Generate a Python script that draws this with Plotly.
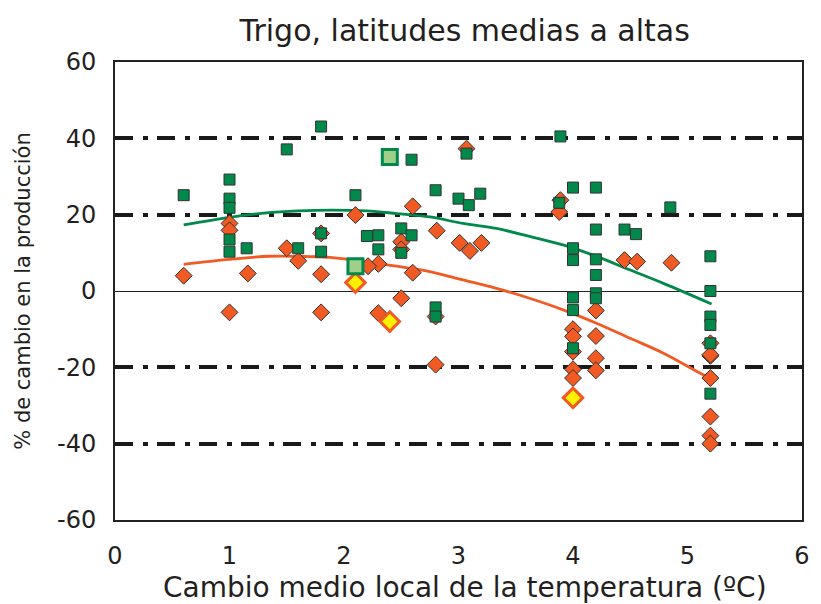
import plotly.graph_objects as go

# Green squares
sq_x = [0.60, 1.00, 1.00, 1.00, 1.00, 1.00, 1.15, 1.50, 1.80, 1.60, 1.80, 1.80,
        2.10, 2.59, 3.07, 2.80, 3.00, 3.09, 3.19, 2.20, 2.30, 2.30, 2.50, 2.59, 2.50,
        2.80, 2.80,
        3.89, 4.00, 4.20, 3.88, 4.85, 4.20, 4.45, 4.55, 4.00, 4.00, 4.20, 4.20, 4.20,
        4.20, 4.00, 4.00, 4.00,
        5.20, 5.20, 5.20, 5.20, 5.20, 5.20]
sq_y = [25.1, 29.2, 24.2, 21.8, 13.5, 10.3, 11.2, 37.1, 43.1, 11.2, 15.1, 10.3,
        25.1, 34.4, 36.0, 26.4, 24.2, 22.5, 25.5, 14.4, 14.6, 10.9, 16.4, 14.6, 10.0,
        -4.3, -6.7,
        40.5, 27.1, 27.1, 23.1, 21.9, 16.1, 16.1, 14.9, 11.2, 8.1, 8.3, 4.2, -0.6,
        -1.9, -1.7, -5.0, -15.0,
        9.1, 0.0, -6.7, -8.9, -13.7, -26.9]

# Orange diamonds
dm_x = [0.60, 1.00, 1.00, 1.00, 1.16, 1.50, 1.60, 1.80, 1.80, 1.80,
        2.10, 2.60, 2.81, 3.01, 3.10, 3.20, 2.50, 2.50, 2.30, 2.21, 2.60, 2.50,
        2.30, 2.80, 2.80, 3.07,
        3.89, 3.88, 4.45, 4.56, 4.86, 4.20, 4.00, 4.00, 4.20, 4.00, 4.20, 4.20,
        4.00, 4.00,
        5.20, 5.20, 5.20, 5.20, 5.20, 5.20, 5.20]
dm_y = [4.0, 17.7, 15.9, -5.6, 4.6, 11.2, 7.9, 15.1, 4.4, -5.6,
        19.9, 22.2, 15.8, 12.6, 10.5, 12.6, 12.9, 10.9, 7.1, 6.5, 4.8, -1.9,
        -5.8, -6.7, -19.3, 37.3,
        23.8, 20.7, 8.1, 7.7, 7.4, -5.1, -10.0, -11.9, -11.8, -15.9, -17.6, -20.8,
        -20.5, -22.8,
        -13.7, -17.0, -22.8, -32.9, -37.9, -40.0, -16.7]

# Highlighted points
hl_sq_x = [2.10, 2.40]
hl_sq_y = [6.5, 35.1]
hl_dm_x = [2.10, 2.40, 4.00]
hl_dm_y = [2.2, -8.0, -28.0]

# Fitted curves
gc_x = [0.60, 1.00, 1.30, 1.60, 1.90, 2.20, 2.46, 2.75, 3.04, 3.33, 3.62, 3.92, 4.21, 4.50, 4.79, 5.21]
gc_y = [17.3, 19.3, 20.4, 21.0, 21.2, 21.0, 20.3, 19.4, 17.7, 16.4, 14.3, 12.0, 9.0, 5.5, 2.0, -3.4]
oc_x = [0.60, 1.00, 1.35, 1.70, 1.88, 2.17, 2.46, 2.75, 3.04, 3.33, 3.62, 3.92, 4.21, 4.50, 4.79, 5.14, 5.20]
oc_y = [7.0, 8.3, 9.1, 9.0, 8.8, 7.7, 6.5, 5.1, 2.9, 0.7, -1.9, -5.0, -8.5, -12.4, -16.3, -22.0, -22.8]

x_ticks = [0, 1, 2, 3, 4, 5, 6]
y_ticks = [-60, -40, -20, 0, 20, 40, 60]
grid_vals = [-40, -20, 20, 40]

GREEN = "#00894A"
ORANGE = "#F15A22"
EDGE = "#333333"
TXT = "#231F20"
FONT = "DejaVu Sans"

fig = go.Figure()
fig.add_trace(go.Scatter(x=gc_x, y=gc_y, mode="lines", line=dict(color=GREEN, width=2.8, shape="spline"),
                         hoverinfo="skip", showlegend=False))
fig.add_trace(go.Scatter(x=oc_x, y=oc_y, mode="lines", line=dict(color=ORANGE, width=2.8, shape="spline"),
                         hoverinfo="skip", showlegend=False))
fig.add_trace(go.Scatter(x=dm_x, y=dm_y, mode="markers",
                         marker=dict(symbol="diamond", size=13, color=ORANGE, line=dict(color=EDGE, width=1)),
                         showlegend=False))
fig.add_trace(go.Scatter(x=sq_x, y=sq_y, mode="markers",
                         marker=dict(symbol="square", size=11, color=GREEN, line=dict(color=EDGE, width=1)),
                         showlegend=False))
fig.add_trace(go.Scatter(x=hl_dm_x, y=hl_dm_y, mode="markers",
                         marker=dict(symbol="diamond", size=15, color="#FFF200", line=dict(color=ORANGE, width=3)),
                         showlegend=False))
fig.add_trace(go.Scatter(x=hl_sq_x, y=hl_sq_y, mode="markers",
                         marker=dict(symbol="square", size=15, color="#9ED08A", line=dict(color=GREEN, width=3)),
                         showlegend=False))
# invisible trace on overlay axis carrying the dash-dot grid
fig.add_trace(go.Scatter(x=[0], y=[0], yaxis="y2", mode="markers", marker=dict(opacity=0),
                         hoverinfo="skip", showlegend=False))

fig.update_layout(
    width=813, height=596,
    margin=dict(l=107, r=19, t=54, b=84, autoexpand=False),
    paper_bgcolor="white", plot_bgcolor="white",
    font=dict(family=FONT, color=TXT),
    title=dict(text="Trigo, latitudes medias a altas", x=0.509, xref="paper", xanchor="center",
               y=0.963, yref="container", yanchor="middle", font=dict(size=30, family=FONT, color=TXT)),
    xaxis=dict(range=[0, 6], tickvals=x_ticks, ticktext=[str(v) for v in x_ticks], automargin=False,
               showgrid=False, zeroline=False, showline=True, linecolor="#222222", linewidth=2,
               mirror=True, ticks="", tickfont=dict(size=24), ticklabelstandoff=13),
    yaxis=dict(range=[-60, 60], tickvals=y_ticks, ticktext=[str(v) for v in y_ticks], automargin=False,
               showgrid=False, zeroline=True, zerolinecolor="#222222", zerolinewidth=1.3,
               showline=True, linecolor="#222222", linewidth=2, mirror=True, ticks="",
               tickfont=dict(size=24), ticklabelstandoff=12,
               title=dict(text="% de cambio en la producción", font=dict(size=21), standoff=21)),
    yaxis2=dict(range=[-60, 60], overlaying="y", side="left", tickvals=grid_vals, automargin=False,
                showticklabels=False, showgrid=True, gridcolor="#1a1a1a", gridwidth=3.5,
                griddash="18px,10px,5px,9px", zeroline=False, showline=False, ticks="",
                layer="below traces"),
    annotations=[dict(text="Cambio medio local de la temperatura (ºC)", xref="paper", yref="paper",
                      x=0.51, y=-0.1463, xanchor="center", yanchor="middle", showarrow=False,
                      font=dict(size=28, family=FONT, color=TXT))],
)

fig.write_html("out.html")
